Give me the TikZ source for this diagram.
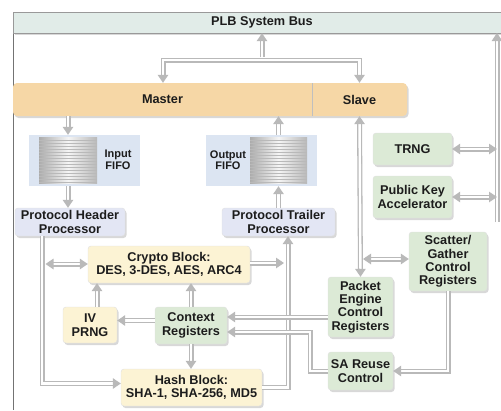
\documentclass[tikz,border=0pt]{standalone}
\usepackage{fontspec}
\setmainfont{Liberation Sans}
\usetikzlibrary{arrows.meta,shadows}
\definecolor{busc}{HTML}{E1ECE8}
\definecolor{masterc}{HTML}{F6D7A6}
\definecolor{lavc}{HTML}{E3E6F4}
\definecolor{greenc}{HTML}{DCEAD6}
\definecolor{yelc}{HTML}{FCF3D4}
\definecolor{fifoc}{HTML}{DCE5F2}
\definecolor{txtc}{HTML}{1C1C1C}
\tikzset{
  >={Triangle[length=8pt,width=10.5pt]},
  pipe/.style={draw=gray!55, line width=1.3pt, double=white, double distance=2.4pt},
  shad/.style={drop shadow={shadow xshift=1.5pt,shadow yshift=-2pt,opacity=.3}},
  blk/.style={shad, rounded corners=3pt, draw=black!12, inner sep=0pt, align=center,
    font=\fontsize{12.7}{13.4}\selectfont\bfseries, text=txtc},
  lav/.style={blk, fill=lavc},
  grn/.style={blk, fill=greenc},
  yel/.style={blk, fill=yelc},
  lbl/.style={inner sep=0pt, align=center, font=\fontsize{12.7}{13.4}\selectfont\bfseries, text=txtc},
  flbl/.style={inner sep=0pt, align=center, font=\fontsize{11}{11.5}\selectfont\bfseries, text=txtc},
}
\begin{document}
\begin{tikzpicture}[x=1pt,y=-1pt]
\useasboundingbox[fill=white] (0,0) rectangle (501,410);
% frame + bus
\draw[black!55, line width=0.8pt] (13,12) -- (13,410);
\node[shad, draw=black!40, fill=busc, minimum width=497pt, minimum height=21pt, inner sep=0pt] (bus) at (261.5,22.5) {};
\node[lbl] at (262,22.5) {PLB System Bus};
% master / slave
\node[shad, rounded corners=4pt, fill=masterc, draw=none, minimum width=394pt, minimum height=33pt] (ms) at (210,99.5) {};
\draw[black!25, line width=0.6pt] (312,83) -- (312,116);
\node[lbl, minimum width=299pt, minimum height=33pt] (master) at (162.5,99.5) {Master};
\node[lbl, minimum width=95pt, minimum height=33pt] (slave) at (359.5,99.5) {Slave};
% FIFOs
\node[fill=fifoc, minimum width=111pt, minimum height=51pt, inner sep=0pt] (inpanel) at (84.5,160.5) {};
\node[fill=fifoc, minimum width=111pt, minimum height=51pt, inner sep=0pt] (outpanel) at (261.5,160.5) {};
\shade[left color=gray!65, right color=gray!55, middle color=gray!8] (39,137) rectangle (97,183);
\shade[left color=gray!65, right color=gray!55, middle color=gray!8] (250,137) rectangle (307,183);
\foreach \yy in {140,143,...,182} {
  \draw[gray!55, line width=0.5pt] (39,\yy) -- (97,\yy);
  \draw[gray!55, line width=0.5pt] (250,\yy) -- (307,\yy);
}
\node[inner sep=0pt, minimum width=58pt, minimum height=46pt] (incyl) at (68,160) {};
\node[inner sep=0pt, minimum width=57pt, minimum height=46pt] (outcyl) at (278.5,160) {};
\node[flbl] (inlbl) at (118,160) {Input\\FIFO};
\node[flbl] (outlbl) at (228,160) {Output\\FIFO};
% blocks
\node[lav, minimum width=110pt, minimum height=28pt] (php) at (70,222) {Protocol Header\\Processor};
\node[lav, minimum width=113pt, minimum height=28pt] (ptp) at (278.5,222) {Protocol Trailer\\Processor};
\node[grn, minimum width=79pt, minimum height=32pt] (trng) at (412.5,149) {TRNG};
\node[grn, minimum width=79pt, minimum height=42pt] (pka) at (412.5,197) {Public Key\\Accelerator};
\node[grn, minimum width=78pt, minimum height=59pt] (sg) at (448,261.5) {Scatter/\\Gather\\Control\\Registers};
\node[grn, minimum width=65pt, minimum height=60pt] (pec) at (360.5,307) {Packet\\Engine\\Control\\Registers};
\node[grn, minimum width=65pt, minimum height=38pt] (sa) at (360.5,371) {SA Reuse\\Control};
\node[yel, minimum width=162pt, minimum height=37pt] (crypto) at (169,264.5) {Crypto Block:\\DES, 3-DES, AES, ARC4};
\node[yel, minimum width=54pt, minimum height=36pt] (iv) at (90,325) {IV\\PRNG};
\node[grn, minimum width=72pt, minimum height=37pt] (ctx) at (191,325.5) {Context\\Registers};
\node[yel, minimum width=141pt, minimum height=37pt] (hash) at (191.5,387.5) {Hash Block:\\SHA-1, SHA-256, MD5};
% coordinates
\coordinate (jn) at (262,57.4);
\coordinate (rbt) at (497,33);
\coordinate (rbb) at (497,222);
\coordinate (vl) at (363,259);
\coordinate (hl) at (45.5,264);
\coordinate (k1) at (310,332);
\coordinate (tl) at (284,263);
\coordinate (ivu) at (97,0);
% connectors
\draw[pipe,->] (jn) -- (bus.south -| jn);
\draw[pipe,<->] (master.north -| 163,0) |- (262,60) -| (slave.north);
\draw[pipe,->] (rbb) -- (rbt);
\draw[pipe,->] (master.south -| incyl) -- (inpanel.north -| incyl);
\draw[pipe,->] (inpanel.south -| incyl) -- (php.north -| incyl);
\draw[pipe,->] (outpanel.north -| outcyl) -- (master.south -| outcyl);
\draw[pipe,->] (ptp.north -| outcyl) -- (outpanel.south -| outcyl);
\draw[pipe,->] ([xshift=-28pt]php.south) |- ([yshift=4pt]hash.west);
\draw[pipe,->] (hash.east) -| ([xshift=9.5pt]ptp.south);
\draw[pipe,<->] (slave.south) -- (pec.north);
\draw[pipe,<->] (trng.east) -- (trng.east -| rbt);
\draw[pipe,<->] (pka.east) -- (pka.east -| rbt);
\draw[pipe,<->] (vl) -- (vl -| sg.west);
\draw[pipe,->] (sg.south) |- (sa.east);
\draw[pipe,<->] (hl) -- (hl -| crypto.west);
\draw[pipe,->] (crypto.east |- tl) -- (tl);
\draw[pipe,->] (iv.north -| ivu) -- (crypto.south -| ivu);
\draw[pipe,->] ([yshift=5pt]ctx.west) -- ([yshift=5pt]ctx.west -| iv.east);
\draw[pipe,->] (ctx.north) -- (crypto.south -| ctx.north);
\draw[pipe,->] (ctx.south) -- (hash.north -| ctx.south);
\draw[pipe,->] (pec.west |- 0,317) -- (ctx.east |- 0,317);
\draw[pipe,->] (sa.west) -| (k1) -- (k1 -| ctx.east);
\end{tikzpicture}
\end{document}
